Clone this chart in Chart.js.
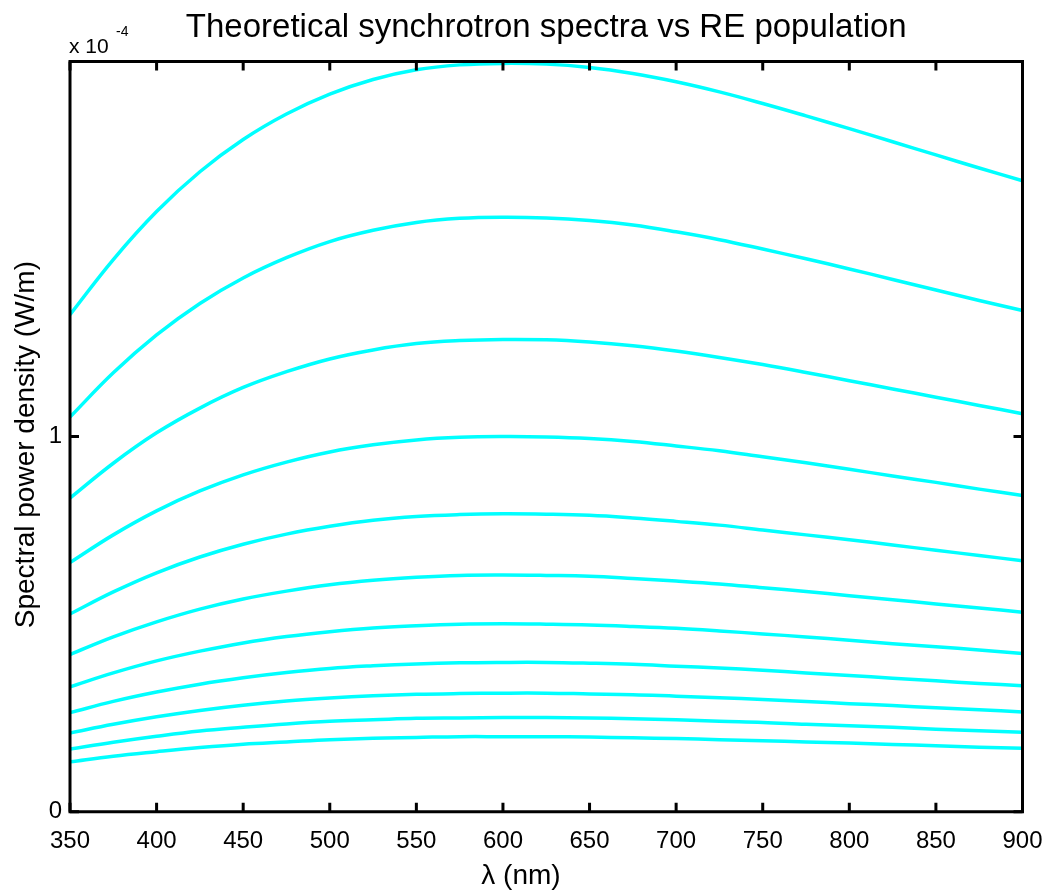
<!DOCTYPE html>
<html>
<head>
<meta charset="utf-8">
<title>Theoretical synchrotron spectra vs RE population</title>
<script src="https://cdn.jsdelivr.net/npm/chart.js@4.4.1/dist/chart.umd.min.js"></script>
<style>
    html, body { margin: 0; padding: 0; background: #ffffff; }
    #chartBox { width: 1047px; height: 891px; }
</style>
</head>
<body>
<div id="chartBox"><canvas id="spectraChart" width="1047" height="891"></canvas></div>
<script>
// wavelength grid (nm)
const lambda = [350, 375, 400, 425, 450, 475, 500, 525, 550, 575, 600, 625,
                650, 675, 700, 725, 750, 775, 800, 825, 850, 875, 900];

// spectral power density, units of 1e-4 W/m (top curve first)
const s1  = [1.325, 1.472, 1.600, 1.706, 1.792, 1.860, 1.913, 1.952, 1.978, 1.991, 1.995, 1.993,
             1.984, 1.968, 1.946, 1.919, 1.888, 1.855, 1.821, 1.786, 1.751, 1.716, 1.682];
const s2  = [1.052, 1.170, 1.271, 1.355, 1.423, 1.477, 1.520, 1.550, 1.571, 1.582, 1.585, 1.583,
             1.576, 1.564, 1.546, 1.525, 1.500, 1.474, 1.447, 1.419, 1.391, 1.363, 1.336];
const s3  = [0.836, 0.929, 1.010, 1.076, 1.131, 1.173, 1.207, 1.231, 1.248, 1.256, 1.259, 1.258,
             1.252, 1.242, 1.228, 1.211, 1.192, 1.171, 1.149, 1.127, 1.105, 1.083, 1.061];
const s4  = [0.664, 0.738, 0.802, 0.855, 0.898, 0.932, 0.959, 0.978, 0.991, 0.998, 1.000, 0.999,
             0.995, 0.987, 0.975, 0.962, 0.946, 0.930, 0.913, 0.895, 0.878, 0.860, 0.843];
const s5  = [0.527, 0.586, 0.637, 0.679, 0.713, 0.740, 0.761, 0.777, 0.787, 0.792, 0.794, 0.793,
             0.790, 0.783, 0.774, 0.764, 0.751, 0.738, 0.725, 0.711, 0.697, 0.683, 0.669];
const s6  = [0.419, 0.466, 0.506, 0.540, 0.567, 0.588, 0.605, 0.617, 0.625, 0.630, 0.631, 0.630,
             0.628, 0.622, 0.615, 0.607, 0.597, 0.587, 0.576, 0.565, 0.554, 0.543, 0.532];
const s7  = [0.333, 0.370, 0.402, 0.428, 0.450, 0.467, 0.480, 0.490, 0.496, 0.500, 0.501, 0.500,
             0.498, 0.494, 0.489, 0.482, 0.474, 0.466, 0.457, 0.448, 0.440, 0.431, 0.422];
const s8  = [0.264, 0.294, 0.319, 0.340, 0.357, 0.371, 0.382, 0.389, 0.394, 0.397, 0.398, 0.398,
             0.396, 0.393, 0.388, 0.383, 0.377, 0.370, 0.363, 0.356, 0.349, 0.342, 0.336];
const s9  = [0.210, 0.233, 0.253, 0.270, 0.284, 0.295, 0.303, 0.309, 0.313, 0.315, 0.316, 0.316,
             0.314, 0.312, 0.308, 0.304, 0.299, 0.294, 0.288, 0.283, 0.277, 0.272, 0.266];
const s10 = [0.167, 0.185, 0.201, 0.215, 0.225, 0.234, 0.241, 0.245, 0.249, 0.250, 0.251, 0.251,
             0.250, 0.248, 0.245, 0.241, 0.238, 0.233, 0.229, 0.225, 0.220, 0.216, 0.212];
const s11 = [0.133, 0.148, 0.160, 0.171, 0.180, 0.186, 0.192, 0.196, 0.198, 0.200, 0.200, 0.200,
             0.199, 0.197, 0.195, 0.192, 0.189, 0.186, 0.183, 0.179, 0.176, 0.172, 0.169];
const series = [s1, s2, s3, s4, s5, s6, s7, s8, s9, s10, s11];

const xTicks = [350, 400, 450, 500, 550, 600, 650, 700, 750, 800, 850, 900];
const yTicks = [0, 1];

const FONT = '"Liberation Sans", Arial, Helvetica, sans-serif';

// MATLAB-ish frame: box, inward ticks, title and axis labels
const matlabFrame = {
    id: 'matlabFrame',
    afterDraw(chart) {
        const c = chart.ctx;
        const a = chart.chartArea;
        const xs = chart.scales.x;
        const ys = chart.scales.y;
        const tl = 9;
        c.save();
        c.strokeStyle = '#000';
        c.lineWidth = 3;
        c.beginPath();
        c.rect(a.left, a.top, a.right - a.left, a.bottom - a.top);
        c.stroke();
        c.beginPath();
        xTicks.forEach(v => {
            const px = xs.getPixelForValue(v);
            c.moveTo(px, a.bottom); c.lineTo(px, a.bottom - tl);
            c.moveTo(px, a.top); c.lineTo(px, a.top + tl);
        });
        yTicks.forEach(v => {
            const py = ys.getPixelForValue(v);
            c.moveTo(a.left, py); c.lineTo(a.left + tl, py);
            c.moveTo(a.right, py); c.lineTo(a.right - tl, py);
        });
        c.stroke();

        c.fillStyle = '#000';
        c.textAlign = 'center';
        c.textBaseline = 'alphabetic';
        c.font = '33px ' + FONT;
        c.fillText('Theoretical synchrotron spectra vs RE population', (a.left + a.right) / 2, 37);

        c.textAlign = 'left';
        c.font = '21px ' + FONT;
        c.fillText('x 10', 69, 53);
        c.font = '14px ' + FONT;
        c.fillText('-4', 116, 36);

        c.textAlign = 'center';
        c.font = '28px ' + FONT;
        c.fillText('\u03bb (nm)', 521, 884);

        c.translate(34, (a.top + a.bottom) / 2 + 8);
        c.rotate(-Math.PI / 2);
        c.fillText('Spectral power density (W/m)', 0, 0);
        c.restore();
    }
};

const ctx = document.getElementById('spectraChart').getContext('2d');

const spectraChart = new Chart(ctx, {
    type: 'line',
    data: {
        datasets: series.map((s, i) => ({
            label: 'population ' + (i + 1),
            data: lambda.map((x, j) => ({ x: x, y: s[j] })),
            borderColor: '#00ffff',
            borderWidth: 3.5,
            pointRadius: 0,
            fill: false,
            tension: 0.4
        }))
    },
    options: {
        responsive: false,
        animation: false,
        devicePixelRatio: 1,
        layout: { padding: { top: 61.5, right: 24.5, left: 0, bottom: 0 } },
        plugins: {
            legend: { display: false },
            title: { display: false },
            tooltip: { enabled: false }
        },
        scales: {
            x: {
                type: 'linear',
                min: 350,
                max: 900,
                afterBuildTicks: (scale) => { scale.ticks = xTicks.map(v => ({ value: v })); },
                afterFit: (scale) => {
                    scale.height = 79.3;
                    scale.paddingLeft = 0;
                    scale.paddingRight = 0;
                },
                grid: { display: false, drawTicks: false },
                border: { display: false },
                ticks: {
                    color: '#000',
                    padding: 15,
                    maxRotation: 0,
                    autoSkip: false,
                    font: { family: FONT, size: 24 }
                }
            },
            y: {
                type: 'linear',
                min: 0,
                max: 2.0,
                afterBuildTicks: (scale) => { scale.ticks = yTicks.map(v => ({ value: v })); },
                afterFit: (scale) => {
                    scale.width = 70;
                    scale.paddingTop = 0;
                    scale.paddingBottom = 0;
                },
                grid: { display: false, drawTicks: false },
                border: { display: false },
                ticks: {
                    color: '#000',
                    padding: 8,
                    font: { family: FONT, size: 24 }
                }
            }
        }
    },
    plugins: [matlabFrame]
});
</script>
</body>
</html>
